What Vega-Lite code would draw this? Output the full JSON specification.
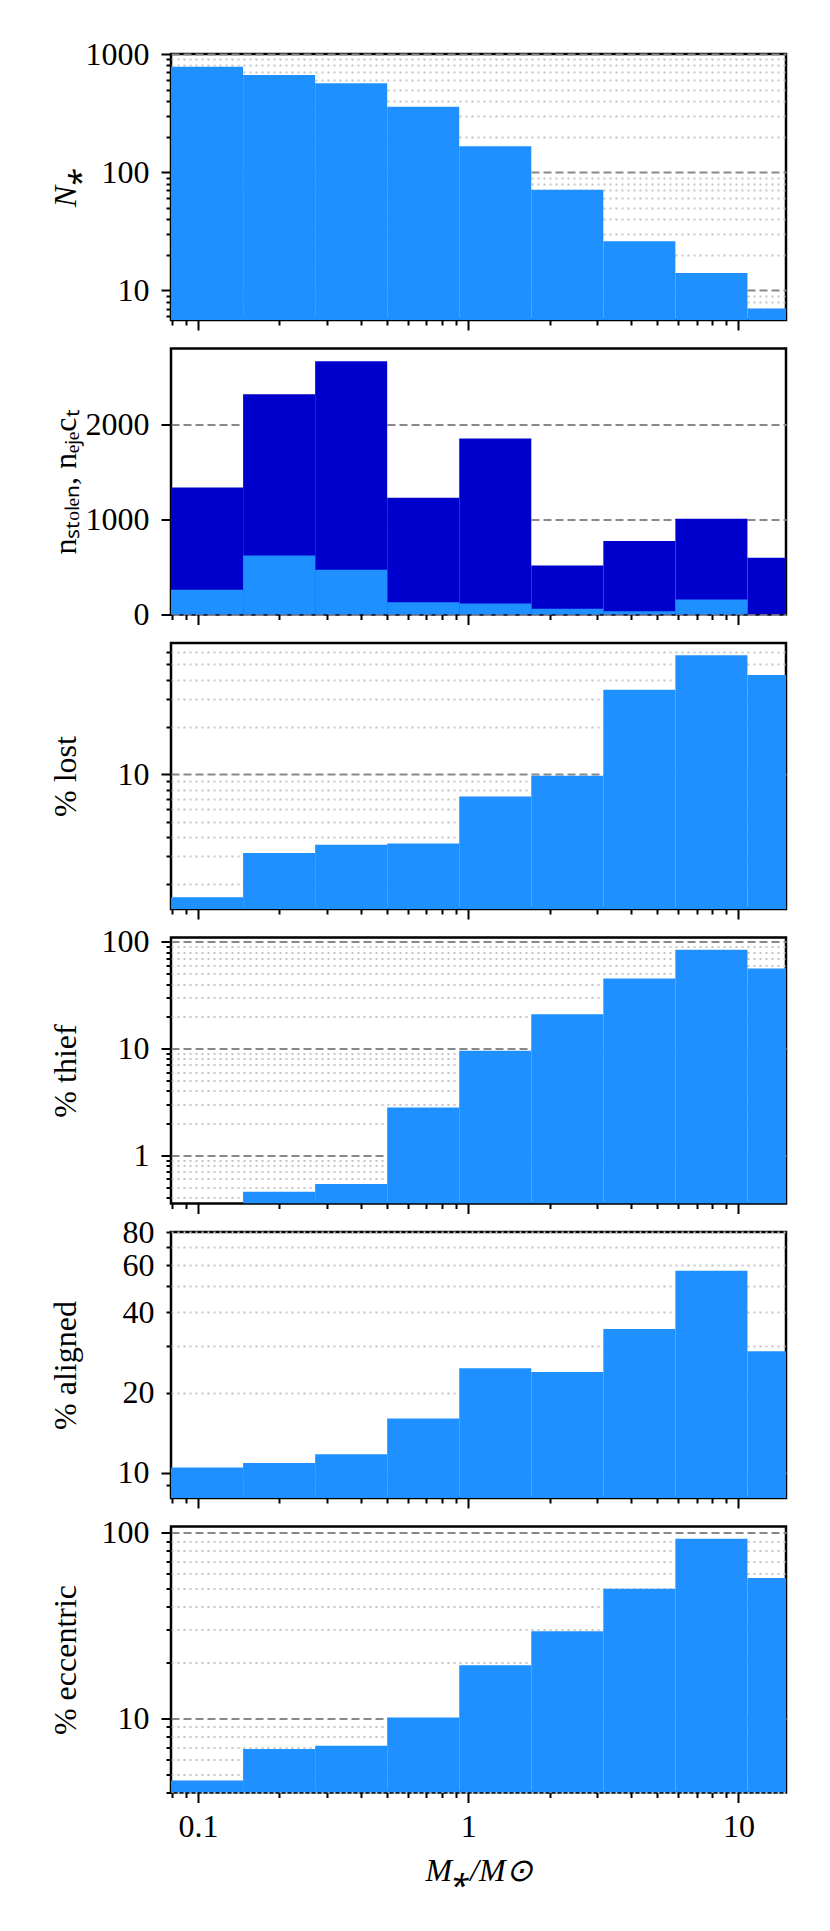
{
  "$schema": "https://vega.github.io/schema/vega-lite/v6.json",
  "background": "white",
  "padding": {"left": 47, "top": 36, "right": 5, "bottom": 5},
  "bounds": "flush",
  "spacing": 28.5,
  "datasets": {
    "bins": [
      {"lo": 0.07943, "hi": 0.14678, "nstar": 781, "neject": 1334, "nstolen": 260, "lost": 1.65, "thief": null, "aligned": 10.47, "eccentric": 4.62},
      {"lo": 0.14678, "hi": 0.27123, "nstar": 664, "neject": 2316, "nstolen": 621, "lost": 3.16, "thief": 0.454, "aligned": 10.9, "eccentric": 6.84},
      {"lo": 0.27123, "hi": 0.50119, "nstar": 565, "neject": 2663, "nstolen": 470, "lost": 3.56, "thief": 0.535, "aligned": 11.75, "eccentric": 7.12},
      {"lo": 0.50119, "hi": 0.92612, "nstar": 358, "neject": 1228, "nstolen": 130, "lost": 3.63, "thief": 2.8, "aligned": 16.0, "eccentric": 10.1},
      {"lo": 0.92612, "hi": 1.71133, "nstar": 166, "neject": 1849, "nstolen": 116, "lost": 7.21, "thief": 9.52, "aligned": 24.7, "eccentric": 19.3},
      {"lo": 1.71133, "hi": 3.16228, "nstar": 71, "neject": 516, "nstolen": 60, "lost": 9.8, "thief": 20.9, "aligned": 23.9, "eccentric": 29.5},
      {"lo": 3.16228, "hi": 5.84341, "nstar": 26, "neject": 773, "nstolen": 35, "lost": 34.5, "thief": 45.3, "aligned": 34.6, "eccentric": 49.9},
      {"lo": 5.84341, "hi": 10.7978, "nstar": 14, "neject": 1007, "nstolen": 158, "lost": 57.1, "thief": 84.2, "aligned": 57.3, "eccentric": 92.8},
      {"lo": 10.7978, "hi": 19.9526, "nstar": 7, "neject": 597, "nstolen": 0, "lost": 42.8, "thief": 56.2, "aligned": 28.6, "eccentric": 57.0}
    ]
  },
  "data": {"name": "bins"},
  "vconcat": [
    {
      "width": 615,
      "height": 266,
      "mark": {"type": "bar", "color": "#1E90FF", "clip": true},
      "encoding": {
        "x": {
          "field": "lo", "type": "quantitative",
          "scale": {"type": "log", "domain": [0.0794, 15], "nice": false},
          "axis": {
            "values": [0.08, 0.09, 0.1, 0.2, 0.3, 0.4, 0.5, 0.6, 0.7, 0.8, 0.9, 1, 2, 3, 4, 5, 6, 7, 8, 9, 10],
            "labels": false, "title": null, "grid": false,
            "tickSize": {"condition": {"test": "datum.value == 0.1 || datum.value == 1 || datum.value == 10", "value": 10}, "value": 5}
          }
        },
        "x2": {"field": "hi"},
        "y": {
          "field": "nstar", "type": "quantitative",
          "scale": {"type": "log", "domain": [5.6, 1000], "nice": false},
          "axis": {
            "values": [6, 7, 8, 9, 10, 20, 30, 40, 50, 60, 70, 80, 90, 100, 200, 300, 400, 500, 600, 700, 800, 900, 1000],
            "title": "N⁎", "titleFontStyle": "italic",
            "labelExpr": "datum.value == 10 || datum.value == 100 || datum.value == 1000 ? format(datum.value, '~g') : ''",
            "gridDash": {"condition": {"test": "datum.value == 10 || datum.value == 100 || datum.value == 1000", "value": [8, 4]}, "value": [2, 4]},
            "gridColor": {"condition": {"test": "datum.value == 10 || datum.value == 100 || datum.value == 1000", "value": "#888888"}, "value": "#c4c4c4"},
            "tickSize": {"condition": {"test": "datum.value == 10 || datum.value == 100 || datum.value == 1000", "value": 10}, "value": 5}
          }
        },
        "y2": {"datum": 5.6}
      }
    },
    {
      "width": 615,
      "height": 266,
      "encoding": {
        "x": {
          "field": "lo", "type": "quantitative",
          "scale": {"type": "log", "domain": [0.0794, 15], "nice": false},
          "axis": {
            "values": [0.08, 0.09, 0.1, 0.2, 0.3, 0.4, 0.5, 0.6, 0.7, 0.8, 0.9, 1, 2, 3, 4, 5, 6, 7, 8, 9, 10],
            "labels": false, "title": null, "grid": false,
            "tickSize": {"condition": {"test": "datum.value == 0.1 || datum.value == 1 || datum.value == 10", "value": 10}, "value": 5}
          }
        },
        "x2": {"field": "hi"}
      },
      "layer": [
        {
          "mark": {"type": "bar", "color": "#0000CD", "clip": true},
          "encoding": {
            "y": {
              "field": "neject", "type": "quantitative",
              "scale": {"domain": [0, 2796], "nice": false},
              "axis": {
                "values": [0, 1000, 2000],
                "format": "d",
                "title": "nₛₜₒₗₑₙ, nₑⱼₑcₜ",
                "gridDash": [8, 4], "gridColor": "#888888", "tickSize": 10
              }
            },
            "y2": {"datum": 0}
          }
        },
        {
          "mark": {"type": "bar", "color": "#1E90FF", "clip": true},
          "encoding": {
            "y": {"field": "nstolen", "type": "quantitative"},
            "y2": {"datum": 0}
          }
        }
      ]
    },
    {
      "width": 615,
      "height": 266,
      "mark": {"type": "bar", "color": "#1E90FF", "clip": true},
      "encoding": {
        "x": {
          "field": "lo", "type": "quantitative",
          "scale": {"type": "log", "domain": [0.0794, 15], "nice": false},
          "axis": {
            "values": [0.08, 0.09, 0.1, 0.2, 0.3, 0.4, 0.5, 0.6, 0.7, 0.8, 0.9, 1, 2, 3, 4, 5, 6, 7, 8, 9, 10],
            "labels": false, "title": null, "grid": false,
            "tickSize": {"condition": {"test": "datum.value == 0.1 || datum.value == 1 || datum.value == 10", "value": 10}, "value": 5}
          }
        },
        "x2": {"field": "hi"},
        "y": {
          "field": "lost", "type": "quantitative",
          "scale": {"type": "log", "domain": [1.39, 68.4], "nice": false},
          "axis": {
            "values": [2, 3, 4, 5, 6, 7, 8, 9, 10, 20, 30, 40, 50, 60],
            "title": "% lost",
            "labelExpr": "datum.value == 10 ? '10' : ''",
            "gridDash": {"condition": {"test": "datum.value == 10", "value": [8, 4]}, "value": [2, 4]},
            "gridColor": {"condition": {"test": "datum.value == 10", "value": "#888888"}, "value": "#c4c4c4"},
            "tickSize": {"condition": {"test": "datum.value == 10", "value": 10}, "value": 5}
          }
        },
        "y2": {"datum": 1.39}
      }
    },
    {
      "width": 615,
      "height": 266,
      "mark": {"type": "bar", "color": "#1E90FF", "clip": true},
      "encoding": {
        "x": {
          "field": "lo", "type": "quantitative",
          "scale": {"type": "log", "domain": [0.0794, 15], "nice": false},
          "axis": {
            "values": [0.08, 0.09, 0.1, 0.2, 0.3, 0.4, 0.5, 0.6, 0.7, 0.8, 0.9, 1, 2, 3, 4, 5, 6, 7, 8, 9, 10],
            "labels": false, "title": null, "grid": false,
            "tickSize": {"condition": {"test": "datum.value == 0.1 || datum.value == 1 || datum.value == 10", "value": 10}, "value": 5}
          }
        },
        "x2": {"field": "hi"},
        "y": {
          "field": "thief", "type": "quantitative",
          "scale": {"type": "log", "domain": [0.352, 109.7], "nice": false},
          "axis": {
            "values": [0.4, 0.5, 0.6, 0.7, 0.8, 0.9, 1, 2, 3, 4, 5, 6, 7, 8, 9, 10, 20, 30, 40, 50, 60, 70, 80, 90, 100],
            "title": "% thief",
            "labelExpr": "datum.value == 1 || datum.value == 10 || datum.value == 100 ? format(datum.value, '~g') : ''",
            "gridDash": {"condition": {"test": "datum.value == 1 || datum.value == 10 || datum.value == 100", "value": [8, 4]}, "value": [2, 4]},
            "gridColor": {"condition": {"test": "datum.value == 1 || datum.value == 10 || datum.value == 100", "value": "#888888"}, "value": "#c4c4c4"},
            "tickSize": {"condition": {"test": "datum.value == 1 || datum.value == 10 || datum.value == 100", "value": 10}, "value": 5}
          }
        },
        "y2": {"datum": 0.352}
      }
    },
    {
      "width": 615,
      "height": 266,
      "mark": {"type": "bar", "color": "#1E90FF", "clip": true},
      "encoding": {
        "x": {
          "field": "lo", "type": "quantitative",
          "scale": {"type": "log", "domain": [0.0794, 15], "nice": false},
          "axis": {
            "values": [0.08, 0.09, 0.1, 0.2, 0.3, 0.4, 0.5, 0.6, 0.7, 0.8, 0.9, 1, 2, 3, 4, 5, 6, 7, 8, 9, 10],
            "labels": false, "title": null, "grid": false,
            "tickSize": {"condition": {"test": "datum.value == 0.1 || datum.value == 1 || datum.value == 10", "value": 10}, "value": 5}
          }
        },
        "x2": {"field": "hi"},
        "y": {
          "field": "aligned", "type": "quantitative",
          "scale": {"type": "log", "domain": [8.05, 80], "nice": false},
          "axis": {
            "values": [9, 10, 20, 30, 40, 50, 60, 70, 80],
            "title": "% aligned",
            "labelExpr": "datum.value == 10 || datum.value == 20 || datum.value == 40 || datum.value == 60 || datum.value == 80 ? format(datum.value, '~g') : ''",
            "gridDash": {"condition": {"test": "datum.value == 10", "value": [8, 4]}, "value": [2, 4]},
            "gridColor": {"condition": {"test": "datum.value == 10", "value": "#888888"}, "value": "#c4c4c4"},
            "tickSize": {"condition": {"test": "datum.value == 10", "value": 10}, "value": 5}
          }
        },
        "y2": {"datum": 8.05}
      }
    },
    {
      "width": 615,
      "height": 266,
      "mark": {"type": "bar", "color": "#1E90FF", "clip": true},
      "encoding": {
        "x": {
          "field": "lo", "type": "quantitative",
          "scale": {"type": "log", "domain": [0.0794, 15], "nice": false},
          "axis": {
            "values": [0.08, 0.09, 0.1, 0.2, 0.3, 0.4, 0.5, 0.6, 0.7, 0.8, 0.9, 1, 2, 3, 4, 5, 6, 7, 8, 9, 10],
            "grid": false,
            "labelExpr": "datum.value == 0.1 || datum.value == 1 || datum.value == 10 ? format(datum.value, '~g') : ''",
            "labelBaseline": "top", "labelPadding": 9,
            "title": "M⁎/M⊙", "titleFontStyle": "italic",
            "titleY": 78, "titleBaseline": "middle",
            "tickSize": {"condition": {"test": "datum.value == 0.1 || datum.value == 1 || datum.value == 10", "value": 10}, "value": 5}
          }
        },
        "x2": {"field": "hi"},
        "y": {
          "field": "eccentric", "type": "quantitative",
          "scale": {"type": "log", "domain": [3.98, 108.2], "nice": false},
          "axis": {
            "values": [4, 5, 6, 7, 8, 9, 10, 20, 30, 40, 50, 60, 70, 80, 90, 100],
            "title": "% eccentric",
            "labelExpr": "datum.value == 10 || datum.value == 100 ? format(datum.value, '~g') : ''",
            "gridDash": {"condition": {"test": "datum.value == 10 || datum.value == 100", "value": [8, 4]}, "value": [2, 4]},
            "gridColor": {"condition": {"test": "datum.value == 10 || datum.value == 100", "value": "#888888"}, "value": "#c4c4c4"},
            "tickSize": {"condition": {"test": "datum.value == 10 || datum.value == 100", "value": 10}, "value": 5}
          }
        },
        "y2": {"datum": 3.98}
      }
    }
  ],
  "config": {
    "font": "Liberation Serif",
    "view": {"stroke": "black", "strokeWidth": 2.5},
    "axis": {
      "domain": false,
      "labelFont": "Liberation Serif",
      "labelFontSize": 32,
      "labelColor": "black",
      "labelOverlap": false,
      "labelFlush": false,
      "titleFont": "Liberation Serif",
      "titleFontSize": 32,
      "titleFontWeight": "normal",
      "titleColor": "black",
      "tickColor": "black",
      "tickWidth": 2,
      "gridWidth": 2,
      "gridOpacity": 1
    },
    "axisY": {
      "labelPadding": 12,
      "labelBaseline": "middle",
      "titleAngle": 270,
      "titleX": -106,
      "titleAlign": "center",
      "titleBaseline": "middle"
    }
  }
}
